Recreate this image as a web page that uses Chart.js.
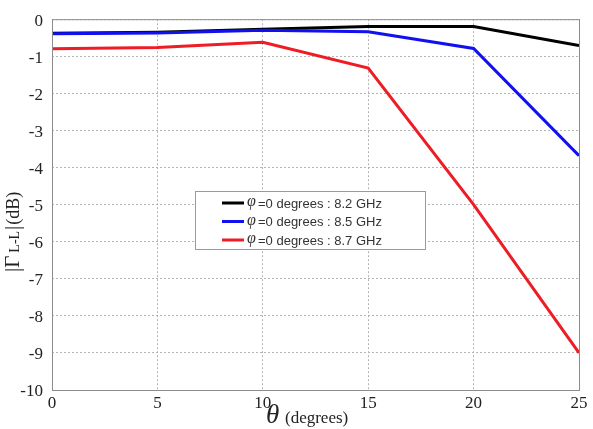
<!DOCTYPE html>
<html>
<head>
<meta charset="utf-8">
<script src="https://cdn.jsdelivr.net/npm/chart.js@4"></script>
<style>
  html, body { margin: 0; padding: 0; background: #fff; }
  #wrap { width: 593px; height: 429px; }
</style>
</head>
<body>
<div id="wrap"><canvas id="chart" width="593" height="429"></canvas></div>
<script>
// --- data ---
const thetaDeg = [0, 5, 10, 15, 20, 25];
const gain82 = [-0.38, -0.35, -0.27, -0.2, -0.2, -0.71];
const gain85 = [-0.39, -0.37, -0.3, -0.34, -0.79, -3.68];
const gain87 = [-0.8, -0.76, -0.62, -1.32, -5.0, -9.0];
const seriesLabels = ['=0 degrees : 8.2 GHz', '=0 degrees : 8.5 GHz', '=0 degrees : 8.7 GHz'];
const seriesColors = ['#000000', '#1010f0', '#ee1c24'];
const xTicks = [0, 5, 10, 15, 20, 25];
const yTicks = [0, -1, -2, -3, -4, -5, -6, -7, -8, -9, -10];

const SERIF = '"Liberation Serif", "Times New Roman", serif';
const SANS = '"Liberation Sans", Arial, sans-serif';

const toPoints = vals => thetaDeg.map((x, i) => ({ x, y: vals[i] }));

// frame, legend box and mixed-font axis titles
const decorations = {
  id: 'decorations',
  afterDatasetsDraw(chart) {
    const { ctx, chartArea: a } = chart;
    ctx.save();
    ctx.strokeStyle = '#8c8c8c';
    ctx.lineWidth = 1;
    ctx.strokeRect(a.left + 0.5, a.top + 0.5, a.right - a.left, a.bottom - a.top);

    // legend
    const lx = 195, ly = 191, lw = 230, lh = 58;
    ctx.fillStyle = '#fff';
    ctx.fillRect(lx, ly, lw, lh);
    ctx.strokeStyle = '#9a9a9a';
    ctx.strokeRect(lx + 0.5, ly + 0.5, lw, lh);
    // legend rows follow dataset index, not draw order
    [0, 1, 2].forEach(i => {
      const ds = chart.data.datasets[i];
      const y = 203 + i * 18.5;
      ctx.strokeStyle = ds.borderColor;
      ctx.lineWidth = 3;
      ctx.beginPath();
      ctx.moveTo(222, y);
      ctx.lineTo(244, y);
      ctx.stroke();
      ctx.fillStyle = '#333';
      ctx.textBaseline = 'middle';
      ctx.textAlign = 'left';
      ctx.font = 'italic 16px ' + SERIF;
      ctx.fillText('\u03C6', 247, y - 1);
      ctx.font = '13px ' + SANS;
      ctx.fillText(ds.label, 258, y + 1);
    });

    // x title: theta (degrees)
    ctx.fillStyle = '#222';
    ctx.textBaseline = 'alphabetic';
    ctx.font = 'italic 27px ' + SERIF;
    ctx.fillText('\u03B8', 266, 423);
    ctx.font = '17px ' + SERIF;
    ctx.fillText('(degrees)', 285, 423);

    // y title: |Gamma L-L| (dB), rotated
    ctx.translate(19, 272);
    ctx.rotate(-Math.PI / 2);
    ctx.font = '21px ' + SERIF;
    ctx.fillText('|\u0393', 0, 0);
    let w = ctx.measureText('|\u0393').width + 3;
    ctx.font = '14px ' + SERIF;
    ctx.fillText('L-L', w, 0);
    w += ctx.measureText('L-L').width + 1;
    ctx.font = '21px ' + SERIF;
    ctx.fillText('|', w, 0);
    w += ctx.measureText('|').width + 1;
    ctx.font = '18px ' + SERIF;
    ctx.fillText('(dB)', w, 0);
    ctx.restore();
  }
};

new Chart(document.getElementById('chart'), {
  type: 'line',
  data: {
    datasets: [gain82, gain85, gain87].map((vals, i) => ({
      label: seriesLabels[i],
      data: toPoints(vals),
      borderColor: seriesColors[i],
      backgroundColor: seriesColors[i],
      borderWidth: 3,
      pointRadius: 0,
      tension: 0,
      fill: false,
      order: 3 - i, // black underneath, red on top
    })),
  },
  options: {
    responsive: false,
    animation: false,
    layout: { padding: { left: 0, right: 14, top: 16, bottom: 0 } },
    plugins: { legend: { display: false }, tooltip: { enabled: false } },
    scales: {
      x: {
        type: 'linear',
        min: 0, max: 25,
        afterBuildTicks: s => { s.ticks = xTicks.map(v => ({ value: v })); },
        afterFit: s => { s.height = 39; },
        grid: { color: '#b4b4b4', drawTicks: false, lineWidth: 1 },
        border: { display: false, dash: [2, 2] },
        ticks: { color: '#222', font: { family: SERIF, size: 17 }, padding: 3, maxRotation: 0 },
      },
      y: {
        min: -10, max: 0,
        afterBuildTicks: s => { s.ticks = yTicks.map(v => ({ value: v })); },
        afterFit: s => { s.width = 52; },
        grid: { color: '#b4b4b4', drawTicks: false, lineWidth: 1 },
        border: { display: false, dash: [2, 2] },
        ticks: { color: '#222', font: { family: SERIF, size: 17 }, padding: 9, labelOffset: 2 },
      },
    },
  },
  plugins: [decorations],
});
</script>
</body>
</html>
